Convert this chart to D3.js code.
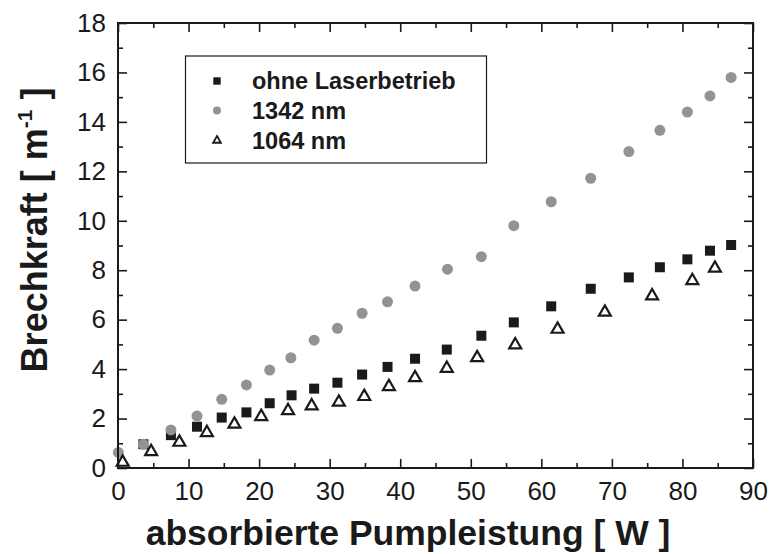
<!DOCTYPE html>
<html><head><meta charset="utf-8">
<script src="https://cdn.jsdelivr.net/npm/d3@7"></script>
<style>body{margin:0;background:#fff}</style>
</head><body><svg id="c" width="771" height="554"></svg>
<script>
const seriesNames = ["ohne Laserbetrieb", "1342 nm", "1064 nm"];
const squareX = [3.6, 7.5, 11.2, 14.7, 18.2, 21.5, 24.6, 27.8, 31.1, 34.6, 38.2, 42.1, 46.6, 51.5, 56.1, 61.4, 67.0, 72.4, 76.8, 80.7, 83.9, 86.9];
const squareY = [0.96, 1.33, 1.67, 2.04, 2.25, 2.62, 2.94, 3.21, 3.45, 3.78, 4.09, 4.42, 4.79, 5.35, 5.89, 6.54, 7.25, 7.71, 8.12, 8.44, 8.79, 9.02];
const circleX = [0.05, 3.6, 7.5, 11.2, 14.7, 18.2, 21.5, 24.5, 27.8, 31.1, 34.6, 38.2, 42.1, 46.7, 51.5, 56.1, 61.4, 67.0, 72.4, 76.8, 80.7, 83.9, 86.9];
const circleY = [0.63, 0.96, 1.54, 2.1, 2.78, 3.36, 3.96, 4.46, 5.17, 5.65, 6.26, 6.72, 7.36, 8.04, 8.55, 9.8, 10.77, 11.72, 12.8, 13.66, 14.4, 15.05, 15.8];
const triX = [0.66, 4.7, 8.7, 12.6, 16.5, 20.3, 24.1, 27.45, 31.3, 34.9, 38.4, 42.1, 46.6, 50.9, 56.3, 62.3, 69.0, 75.7, 81.4, 84.6];
const triY = [0.23, 0.66, 1.04, 1.43, 1.77, 2.08, 2.32, 2.51, 2.66, 2.89, 3.29, 3.65, 4.03, 4.46, 4.98, 5.61, 6.3, 6.96, 7.58, 8.08];
const xTicks = [0,10,20,30,40,50,60,70,80,90];
const yTicks = [0,2,4,6,8,10,12,14,16,18];

const svg = d3.select("#c");
const L=118, R=753, T=23, B=468;
const x = d3.scaleLinear().domain([0,90]).range([L,R]);
const y = d3.scaleLinear().domain([0,18]).range([B,T]);
const font = "'Liberation Sans', Arial, sans-serif";

// data markers (squares, then circles, then triangles on top)
const g = svg.append("g");
const circ = d3.zip(circleX, circleY);
const sq = d3.zip(squareX, squareY);
const tri = d3.zip(triX, triY);
g.selectAll(".s").data(sq).enter().append("rect")
  .attr("x", d=>x(d[0])-5).attr("y", d=>y(d[1])-5).attr("width", 10).attr("height", 10).attr("fill", "#1a1a1a");
g.selectAll(".c").data(circ).enter().append("circle")
  .attr("cx", d=>x(d[0])).attr("cy", d=>y(d[1])).attr("r", 5.5).attr("fill", "#939393");
const triSym = d3.symbol().type(d3.symbolTriangle).size(62);
g.selectAll(".t").data(tri).enter().append("path")
  .attr("d", triSym).attr("transform", d=>`translate(${x(d[0])},${y(d[1])})`)
  .attr("fill", "none").attr("stroke", "#1a1a1a").attr("stroke-width", 2.2);

// axes
function ax(axisGen, transform) {
  const a = svg.append("g").attr("transform", transform).call(axisGen);
  a.select(".domain").remove();
  a.selectAll("line").attr("stroke", "#1a1a1a").attr("stroke-width", 1.6);
  a.selectAll("text").attr("font-family", font).attr("font-size", 26).attr("fill", "#1a1a1a");
  return a;
}
const minorX = d3.range(5, 90, 10);
const minorY = d3.range(1, 18, 2);
ax(d3.axisBottom(x).tickValues(xTicks).tickSize(-9).tickPadding(14).tickFormat(d3.format("d")), `translate(0,${B})`);
ax(d3.axisBottom(x).tickValues(minorX).tickSize(-5).tickFormat(""), `translate(0,${B})`);
ax(d3.axisTop(x).tickValues(xTicks).tickSize(-9).tickFormat(""), `translate(0,${T})`);
ax(d3.axisTop(x).tickValues(minorX).tickSize(-5).tickFormat(""), `translate(0,${T})`);
ax(d3.axisLeft(y).tickValues(yTicks).tickSize(-9).tickPadding(12).tickFormat(d3.format("d")), `translate(${L},0)`);
ax(d3.axisLeft(y).tickValues(minorY).tickSize(-5).tickFormat(""), `translate(${L},0)`);
ax(d3.axisRight(y).tickValues(yTicks).tickSize(-9).tickFormat(""), `translate(${R},0)`);
ax(d3.axisRight(y).tickValues(minorY).tickSize(-5).tickFormat(""), `translate(${R},0)`);

svg.append("rect").attr("x", L).attr("y", T).attr("width", R-L).attr("height", B-T)
  .attr("fill", "none").attr("stroke", "#1a1a1a").attr("stroke-width", 2);

// legend
svg.append("rect").attr("x", 185.5).attr("y", 56).attr("width", 301).attr("height", 107)
  .attr("fill", "none").attr("stroke", "#1a1a1a").attr("stroke-width", 1.2);
const ly = [81, 110.5, 140.5], lx = 217;
svg.append("rect").attr("x", lx-3.7).attr("y", ly[0]-3.7).attr("width", 7.4).attr("height", 7.4).attr("fill", "#1a1a1a");
svg.append("circle").attr("cx", lx).attr("cy", ly[1]).attr("r", 4).attr("fill", "#939393");
svg.append("path").attr("d", d3.symbol().type(d3.symbolTriangle).size(26)).attr("transform", `translate(${lx},${ly[2]})`)
  .attr("fill", "none").attr("stroke", "#1a1a1a").attr("stroke-width", 1.8);
seriesNames.forEach((n,i)=>{
  svg.append("text").attr("x", 252).attr("y", ly[i]).attr("dy", "0.36em")
    .attr("font-family", font).attr("font-weight", "bold").attr("font-size", 23.5).attr("fill", "#1a1a1a").text(n);
});

// axis titles
svg.append("text").attr("x", 408).attr("y", 545).attr("text-anchor", "middle")
  .attr("font-family", font).attr("font-weight", "bold").attr("font-size", 35.5).attr("fill", "#1a1a1a")
  .text("absorbierte Pumpleistung [ W ]");
const yt = svg.append("text").attr("transform", "translate(47,230) rotate(-90)").attr("text-anchor", "middle")
  .attr("font-family", font).attr("font-weight", "bold").attr("font-size", 36).attr("fill", "#1a1a1a");
yt.append("tspan").text("Brechkraft [ m");
yt.append("tspan").attr("font-size", 21).attr("dy", -15).text("-1");
yt.append("tspan").attr("dy", 15).text(" ]");
</script></body></html>
